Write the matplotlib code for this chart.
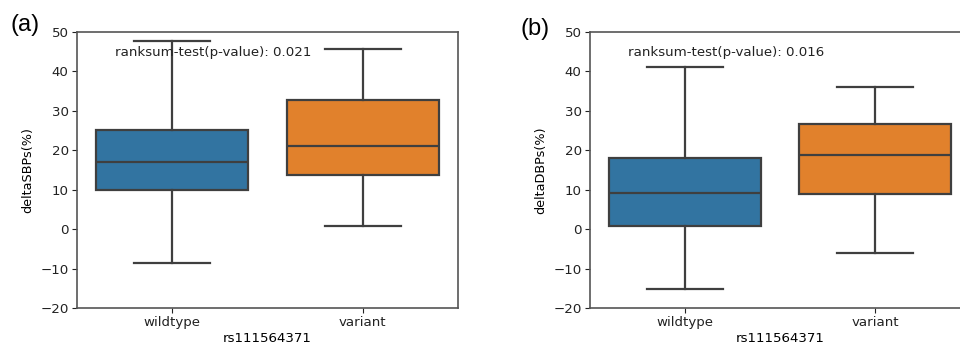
import matplotlib
matplotlib.use("Agg")
import matplotlib.pyplot as plt

categories = ["wildtype", "variant"]
# panel (a) deltaSBPs: whislo, q1, med, q3, whishi
sbp_whislo = [-8.7, 0.7]
sbp_q1 = [10.0, 13.8]
sbp_med = [17.0, 21.0]
sbp_q3 = [25.1, 32.8]
sbp_whishi = [47.6, 45.8]
# panel (b) deltaDBPs
dbp_whislo = [-15.1, -6.0]
dbp_q1 = [0.9, 8.8]
dbp_med = [9.1, 18.9]
dbp_q3 = [18.1, 26.7]
dbp_whishi = [41.0, 36.0]

pvals = ["0.021", "0.016"]
ylabels = ["deltaSBPs(%)", "deltaDBPs(%)"]
panel_labels = ["(a)", "(b)"]
xlabel = "rs111564371"
colors = ["#3274a1", "#e1812c"]
edge = "#3f3f3f"

W, H = 960, 344
fig = plt.figure(figsize=(W / 100, H / 100), dpi=100)

def frac(x0, y0, x1, y1):
    return [x0 / W, 1 - y1 / H, (x1 - x0) / W, (y1 - y0) / H]

axes = [fig.add_axes(frac(77, 32, 458, 308)), fig.add_axes(frac(590, 32, 970, 308))]
data = [
    (sbp_whislo, sbp_q1, sbp_med, sbp_q3, sbp_whishi),
    (dbp_whislo, dbp_q1, dbp_med, dbp_q3, dbp_whishi),
]

FS = 9.6
for i, ax in enumerate(axes):
    lo, q1, med, q3, hi = data[i]
    stats = []
    for j, c in enumerate(categories):
        stats.append(dict(label=c, whislo=lo[j], q1=q1[j], med=med[j], q3=q3[j], whishi=hi[j], fliers=[]))
    bp = ax.bxp(stats, positions=[0, 1], widths=0.8, patch_artist=True, showfliers=False,
                capwidths=0.4,
                boxprops=dict(edgecolor=edge, linewidth=1.6),
                medianprops=dict(color=edge, linewidth=1.6),
                whiskerprops=dict(color=edge, linewidth=1.6),
                capprops=dict(color=edge, linewidth=1.6))
    for patch, col in zip(bp["boxes"], colors):
        patch.set_facecolor(col)
    ax.set_xlim(-0.5, 1.5)
    ax.set_ylim(-20, 50)
    ax.set_yticks(range(-20, 51, 10))
    ax.set_xticks([0, 1])
    ax.set_xticklabels(categories)
    ax.tick_params(labelsize=FS, colors="#222222", length=3.5, pad=2.5)
    for sp in ax.spines.values():
        sp.set_color("#555555")
        sp.set_linewidth(1.2)
    ax.set_ylabel(ylabels[i], fontsize=9.2, labelpad=4)
    ax.set_xlabel(xlabel, fontsize=FS, labelpad=2)
    ax.text(-0.3, 44.7, "ranksum-test(p-value): " + pvals[i], fontsize=FS, va="center", ha="left",
            color="#222222")

fig.text(10 / W, 1 - 24.5 / H, panel_labels[0], fontsize=17, family="Liberation Sans", va="center", ha="left")
fig.text(521 / W, 1 - 29 / H, panel_labels[1], fontsize=17, family="Liberation Sans", va="center", ha="left")

fig.savefig("out.png", dpi=100)
